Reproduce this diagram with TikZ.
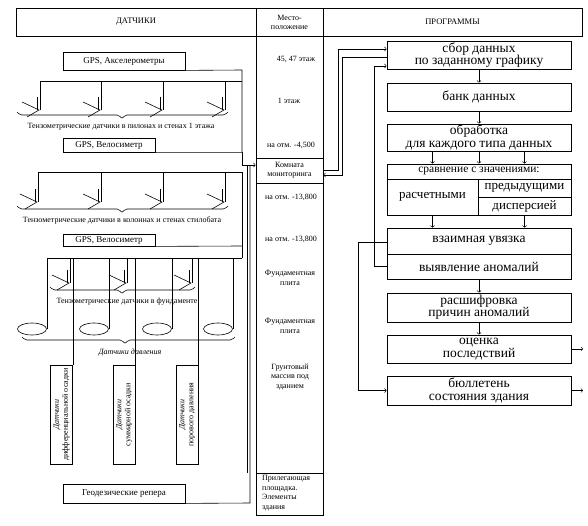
\documentclass[tikz,border=0pt]{standalone}
\usepackage{fontspec}
\setmainfont{Liberation Serif}
\usetikzlibrary{shapes.geometric}

\tikzset{
  cell/.style={draw, line width=0.8pt, inner sep=0pt, align=center, font=\fontsize{8}{9}\selectfont},
  prog/.style={draw, line width=0.8pt, minimum width=184, inner sep=0pt, align=center, font=\fontsize{13.5}{12.5}\selectfont},
  lbl/.style={inner sep=0pt, align=center, font=\fontsize{8}{9.5}\selectfont},
  wire/.style={line width=0.6pt},
  pics/tenzo/.style={code={\draw[wire] (-3,-13) -- (-3,0); \draw[wire] (-18,-8) -- (-1,0) -- (-13,7);}}
}
% brace opening upwards, tip down: left x, middle x, right x, y
\newcommand{\downbrace}[4]{%
  \draw[wire, rounded corners=2pt] (#1,#4-3) -- (#1+3,#4) -- (#2-3,#4) -- (#2,#4+4) -- (#2+3,#4) -- (#3-3,#4) -- (#3,#4-3);}
\newcommand{\vtext}[2]{\rotatebox{90}{\begin{tabular}{@{}c@{}}\textit{#1}\\#2\end{tabular}}}

\begin{document}
\begin{tikzpicture}[x=1pt,y=-1pt]
        \useasboundingbox (0,0) rectangle (588,526);

        % Headers
        \node[cell, minimum width=240, minimum height=28, font=\fontsize{8.5}{9}\selectfont] (hdrL) at (136,22) {ДАТЧИКИ};
        \node[cell, minimum width=67, minimum height=28] (hdrM) at (289.5,22) {Место-\\положение};
        \node[cell, minimum width=259, minimum height=28, font=\fontsize{8.5}{9}\selectfont] (hdrR) at (452.5,22) {ПРОГРАММЫ};

        % Location column
        \node[cell, minimum width=67, minimum height=479, anchor=north] (col) at (289.5,36) {};
        \node[cell, minimum width=67, minimum height=25] (room) at (289.5,170.5) {Комната\\мониторинга};
        \node[cell, minimum width=67, minimum height=42] (yard) at (289.5,494) {};
        \node[lbl, align=left, anchor=west] (yardtxt) at (262,493) {Прилегающая\\площадка.\\ Элементы\\ здания};
        \node[lbl] (lev1) at (296,59) {45, 47 этаж};
        \node[lbl] (lev2) at (289,101) {1 этаж};
        \node[lbl] (lev3) at (291,145) {на отм. -4,500};
        \node[lbl] (lev4) at (291,197) {на отм. -13,800};
        \node[lbl] (lev5) at (291,239) {на отм. -13,800};
        \node[lbl] (lev6) at (290,278) {Фундаментная\\плита};
        \node[lbl] (lev7) at (290,326) {Фундаментная\\плита};
        \node[lbl] (lev8) at (290,377) {Грунтовый\\массив под\\зданием};

        % Programs
        \node[prog, minimum height=28] (sbor) at (479,55) {сбор данных\\по заданному графику};
        \node[prog, minimum height=28] (bank) at (479,97) {банк данных};
        \node[prog, minimum height=27] (obr) at (479,137.5) {обработка\\для каждого типа данных};
        \node[prog, minimum height=15, font=\fontsize{11.5}{12}\selectfont] (srav) at (479,171.5) {сравнение с значениями:};
        \node[prog, minimum width=91, minimum height=36, font=\fontsize{13}{12}\selectfont] (rasch) at (432.5,197) {расчетными};
        \node[prog, minimum width=93, minimum height=18, font=\fontsize{13}{12}\selectfont] (pred) at (524.5,188) {предыдущими};
        \node[prog, minimum width=93, minimum height=18, font=\fontsize{13}{12}\selectfont] (disp) at (524.5,206) {дисперсией};
        \node[prog, minimum height=26] (vzaim) at (479,241) {взаимная увязка};
        \node[prog, minimum height=25] (vyyav) at (479,266.5) {выявление аномалий};
        \node[prog, minimum height=29] (rassh) at (479,307.5) {расшифровка\\причин аномалий};
        \node[prog, minimum height=28] (otsenka) at (479,349) {оценка\\последствий};
        \node[prog, minimum height=29] (bull) at (479,390.5) {бюллетень\\состояния здания};
        \coordinate (out1) at (583,349);
        \coordinate (out2) at (583,390.5);

        \draw[wire,->] (sbor) -- (bank);
        \draw[wire,->] (bank) -- (obr);
        \draw[wire,->] (obr.south -| rasch) -- (srav.north -| rasch);
        \draw[wire,->] (obr) -- (srav);
        \draw[wire,->] (obr.south -| pred) -- (srav.north -| pred);
        \draw[wire,->] (rasch) -- (vzaim.north -| rasch);
        \draw[wire,->] (disp) -- (vzaim.north -| disp);
        \draw[wire,->] (vyyav) -- (rassh);
        \draw[wire,->] (rassh) -- (otsenka);
        \draw[wire,->] (otsenka.east) -- (out1);
        \draw[wire,->] (bull.east) -- (out2);

        % Feedback
        \draw[wire,->] (vyyav.west) -- ++(-12,0) |- ([yshift=-11pt]sbor.west);
        \draw[wire,->] ([yshift=-1pt]vzaim.west) -- ++(-28,0) |- (bull.west);
        \draw[wire,->] (room.east) -- ++(15,0) |- ([yshift=6pt]sbor.west);
        \draw[wire,->] ([yshift=-2pt]sbor.west) -- ++(-44,0) |- ([yshift=-4.5pt]room.east);

        % Sensors: group 1
        \node[cell, minimum width=122, minimum height=18, font=\fontsize{9}{10}\selectfont] (gpsA) at (124,61) {GPS, Акселерометры};
        \node[cell, minimum width=92, minimum height=14, font=\fontsize{9}{10}\selectfont] (gpsV1) at (109,145) {GPS, Велосиметр};
        \coordinate (r1) at (242,70);
        \draw[wire] (gpsA.south east) -- (r1) -- (r1 |- gpsV1.south) -- (gpsV1.south east);
        \draw[wire] (40,81) -- (242,81);
        \foreach \x in {40,101,163,225} {
          \draw[wire] (\x,81) -- (\x,110);
          \pic at (\x,110) {tenzo};
        }
        \downbrace{17}{122}{228}{115}
        \node[lbl] (t1) at (121,127) {Тензометрические датчики в пилонах и стенах 1 этажа};
        \draw[wire,->] (r1 |- gpsV1.south) -- (242,165) -- ([yshift=5.5pt]room.west);

        % Sensors: group 2
        \draw[wire] (38,172) -- (242,172) -- (242,258);
        \foreach \x in {38,101,163,225} {
          \draw[wire] (\x,172) -- (\x,202);
          \pic at (\x,202) {tenzo};
        }
        \downbrace{17}{122}{228}{209}
        \node[lbl] (t2) at (122,220) {Тензометрические датчики в колоннах и стенах стилобата};
        \node[cell, minimum width=92, minimum height=12, font=\fontsize{9}{10}\selectfont] (gpsV2) at (109,240) {GPS, Велосиметр};
        \draw[wire] (gpsV2.south east) -- (242,246);

        % Sensors: foundation
        \draw[wire] (47,258) -- (242,258);
        \foreach \x in {70,127,192} {
          \draw[wire] (\x,258) -- (\x,283);
          \pic at (\x,283) {tenzo};
        }
        \downbrace{50}{122}{195}{290}
        \node[lbl] (t3) at (127,302) {Тензометрические датчики в фундаменте};
        \foreach \i/\x in {1/32,2/94,3/157,4/218} {
          \node[draw, ellipse, line width=0.6pt, minimum width=29, minimum height=12, inner sep=0pt] (p\i) at (\x,329) {};
          \draw[wire] (p\i.east) -- (p\i.east |- 0,258);
        }
        \downbrace{22}{125}{235}{340}
        \node[lbl, font=\fontsize{8}{9.5}\selectfont\itshape] (t4) at (130,353) {Датчики давления};

        % Settlement sensors
        \node[cell, minimum width=22, minimum height=99] (dif) at (61.5,414.5) {\vtext{Датчики}{дифференциальной осадки}};
        \node[cell, minimum width=22, minimum height=99] (sum) at (124,414.5) {\vtext{Датчики}{суммарной осадки}};
        \node[cell, minimum width=22, minimum height=99] (por) at (187,414.5) {\vtext{Датчики}{порового давления}};
        \draw[wire] (dif.north east) -- (dif.north east |- 0,258);
        \draw[wire] (sum.north east) -- (sum.north east |- 0,258);
        \draw[wire] (por.north east) -- (por.north east |- 0,258);

        % Geodesy
        \node[cell, minimum width=122, minimum height=19, font=\fontsize{9}{10}\selectfont] (geod) at (124,493.5) {Геодезические репера};
        \draw[wire] (geod.south east) -- (250,503) -- (250,165);
        \draw[wire] (247,473) -- (247,165);
\end{tikzpicture}
\end{document}
